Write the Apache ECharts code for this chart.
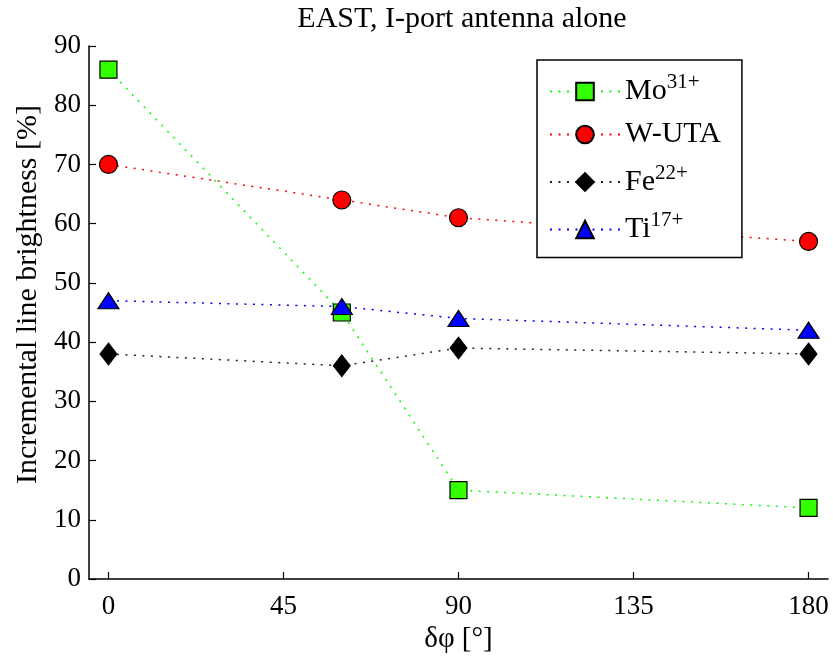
<!DOCTYPE html>
<html>
<head>
<meta charset="utf-8">
<script src="https://cdn.jsdelivr.net/npm/echarts@6/dist/echarts.min.js"></script>
<style>html,body{margin:0;padding:0;background:#fff}#c{width:833px;height:662px}</style>
</head>
<body>
<div id="c"></div>
<script>
const xValues = [0, 60, 90, 180];
const moValues = [86, 45, 15, 12];
const wValues = [70, 64, 61, 57];
const feValues = [38, 36, 39, 38];
const tiValues = [47, 46, 44, 42];
const xTicks = [0, 45, 90, 135, 180];
const seriesNames = ['Mo31+', 'W-UTA', 'Fe22+', 'Ti17+'];
const legendRich = {
  'Mo31+': '{b|Mo}{s|31+}',
  'W-UTA': '{b|W-UTA}',
  'Fe22+': '{b|Fe}{s|22+}',
  'Ti17+': '{b|Ti}{s|17+}'
};
const FONT = '"Liberation Serif", "Times New Roman", serif';
const DOTS = [2, 6.5];

function pairs(vals) { return xValues.map((x, i) => [x, vals[i]]); }

const chart = echarts.init(document.getElementById('c'), null, {renderer: 'canvas'});
chart.setOption({
  backgroundColor: '#fff',
  animation: false,
  title: {
    text: 'EAST, I-port antenna alone',
    left: 457, textAlign: 'center', top: -1,
    textStyle: {fontFamily: FONT, fontSize: 30, fontWeight: 'normal', color: '#000'}
  },
  grid: {left: 89, right: 5, top: 46, bottom: 83, containLabel: false},
  xAxis: {
    type: 'value', min: -5, max: 185,
    name: 'δφ [°]', nameLocation: 'middle', nameGap: 42,
    nameTextStyle: {fontFamily: FONT, fontSize: 29, color: '#000'},
    axisLine: {show: true, onZero: false, lineStyle: {color: '#000', width: 1.5}},
    axisTick: {show: true, inside: true, length: 7, customValues: xTicks, lineStyle: {color: '#000', width: 1.2}},
    axisLabel: {customValues: xTicks, margin: 14, fontFamily: FONT, fontSize: 27, color: '#000'},
    splitLine: {show: false}
  },
  yAxis: {
    type: 'value', min: 0, max: 90, interval: 10,
    name: 'Incremental line brightness [%]', nameLocation: 'middle', nameGap: 43,
    nameTextStyle: {fontFamily: FONT, fontSize: 30, color: '#000', padding: [0, 0, 0, 36]},
    axisLine: {show: true, onZero: false, lineStyle: {color: '#000', width: 1.5}},
    axisTick: {show: true, inside: true, length: 7, lineStyle: {color: '#000', width: 1.2}},
    axisLabel: {margin: 8, fontFamily: FONT, fontSize: 27, color: '#000'},
    splitLine: {show: false}
  },
  legend: {
    orient: 'vertical', left: 537, top: 60,
    data: seriesNames,
    itemWidth: 70, itemHeight: 22, itemGap: 13,
    padding: [12, 21, 13, 12],
    borderColor: '#000', borderWidth: 1.5,
    backgroundColor: '#fff',
    formatter: n => legendRich[n],
    textStyle: {
      fontFamily: FONT, fontSize: 30, color: '#000',
      rich: {
        b: {fontFamily: FONT, fontSize: 30, color: '#000'},
        s: {fontFamily: FONT, fontSize: 21, color: '#000', padding: [0, 0, 18, 0]}
      }
    }
  },
  series: [
    {
      name: 'Mo31+', type: 'line', data: pairs(moValues),
      symbol: 'rect', symbolSize: 17,
      lineStyle: {color: '#00ff00', type: DOTS, width: 1.5},
      itemStyle: {color: '#33ff00', borderColor: '#000', borderWidth: 1.2}
    },
    {
      name: 'W-UTA', type: 'line', data: pairs(wValues),
      symbol: 'circle', symbolSize: 18,
      lineStyle: {color: '#ff0000', type: DOTS, width: 1.5},
      itemStyle: {color: '#ff0000', borderColor: '#000', borderWidth: 1.2}
    },
    {
      name: 'Fe22+', type: 'line', data: pairs(feValues),
      symbol: 'diamond', symbolSize: [17, 22],
      lineStyle: {color: '#222', type: DOTS, width: 1.5},
      itemStyle: {color: '#000', borderColor: '#000', borderWidth: 1}
    },
    {
      name: 'Ti17+', type: 'line', data: pairs(tiValues),
      symbol: 'triangle', symbolSize: [21, 16],
      lineStyle: {color: '#0000ff', type: DOTS, width: 1.5},
      itemStyle: {color: '#0000ff', borderColor: '#000', borderWidth: 1.2}
    }
  ]
});
</script>
</body>
</html>
